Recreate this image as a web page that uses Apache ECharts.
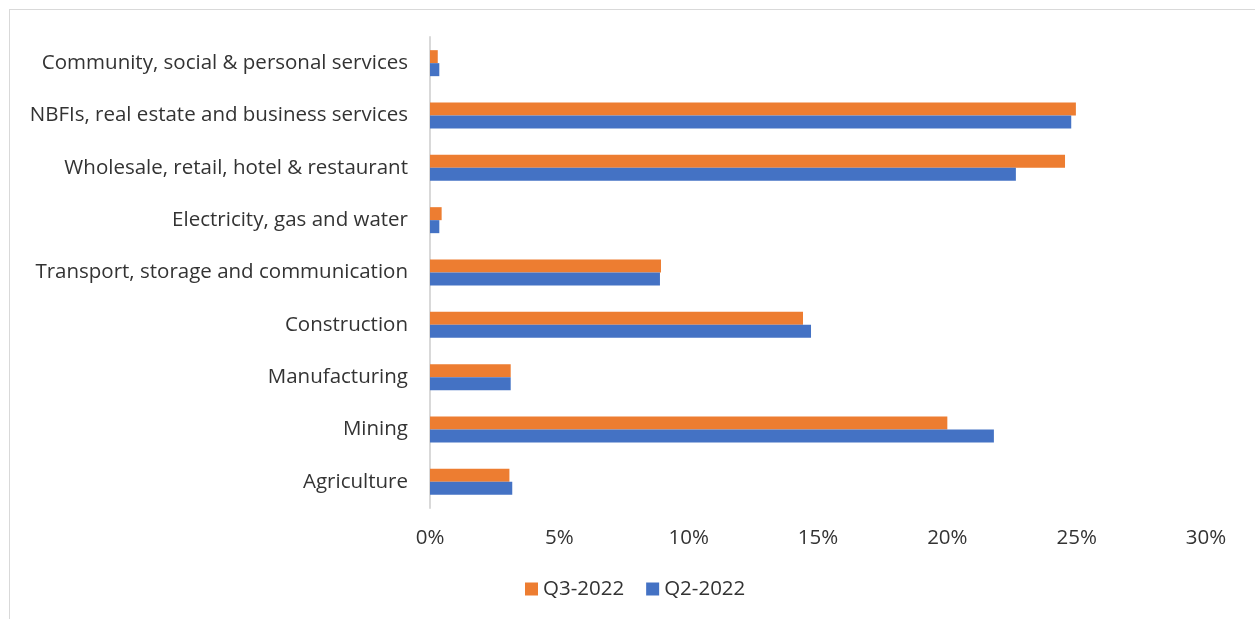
<!DOCTYPE html>
<html>
<head>
<meta charset="utf-8">
<script src="https://cdn.jsdelivr.net/npm/echarts@6/dist/echarts.min.js"></script>
<style>
  html, body { margin: 0; padding: 0; background: #fff; }
  #frame { position: absolute; left: 9px; top: 9px; width: 1250px; height: 620px; border: 1px solid #d9d9d9; box-sizing: border-box; }
  #chart { position: absolute; left: 0; top: 0; width: 1255px; height: 619px; }
</style>
</head>
<body>
<div id="frame"></div>
<div id="chart"></div>
<script>
const categories = [
  "Agriculture",
  "Mining",
  "Manufacturing",
  "Construction",
  "Transport, storage and communication",
  "Electricity, gas and water",
  "Wholesale, retail, hotel & restaurant",
  "NBFIs, real estate and business services",
  "Community, social & personal services"
];
const q3_2022 = [3.07, 20.0, 3.12, 14.42, 8.93, 0.45, 24.55, 24.97, 0.30];
const q2_2022 = [3.18, 21.8, 3.12, 14.73, 8.89, 0.36, 22.65, 24.79, 0.36];
const xTicks = { min: 0, max: 30, interval: 5 };

const chart = echarts.init(document.getElementById('chart'), null, { renderer: 'canvas' });
const font = "'Open Sans', 'Liberation Sans', Arial, sans-serif";
chart.setOption({
  animation: false,
  textStyle: { fontFamily: font },
  legend: {
    top: 578,
    left: 525,
    padding: 0,
    itemWidth: 13,
    itemHeight: 13,
    itemGap: 22,
    icon: 'rect',
    textStyle: { fontSize: 20.5, lineHeight: 22, color: '#333333', fontFamily: font },
    data: ['Q3-2022', 'Q2-2022']
  },
  grid: { left: 430, right: 49, top: 37, bottom: 111, containLabel: false },
  xAxis: {
    type: 'value',
    min: xTicks.min, max: xTicks.max, interval: xTicks.interval,
    axisLine: { show: false },
    axisTick: { show: false },
    splitLine: { show: false },
    axisLabel: { formatter: '{value}%', fontSize: 20.5, color: '#333333', margin: 20, fontFamily: font }
  },
  yAxis: {
    type: 'category',
    data: categories,
    axisLine: { show: true, lineStyle: { color: '#d9d9d9', width: 2 } },
    axisTick: { show: false },
    axisLabel: { fontSize: 20.5, color: '#333333', margin: 22, fontFamily: font }
  },
  series: [
    {
      name: 'Q3-2022', type: 'bar', data: q3_2022,
      itemStyle: { color: '#ED7D31' },
      barWidth: 13, barGap: '0%'
    },
    {
      name: 'Q2-2022', type: 'bar', data: q2_2022,
      itemStyle: { color: '#4472C4' },
      barWidth: 13, barGap: '0%'
    }
  ]
});
</script>
</body>
</html>
